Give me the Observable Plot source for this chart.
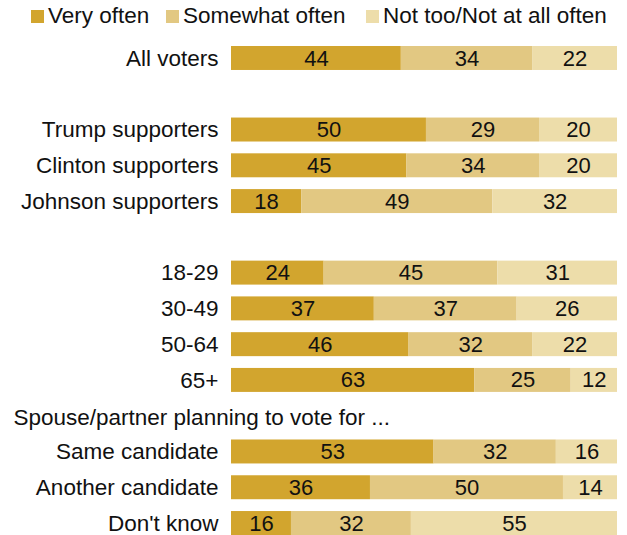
<!DOCTYPE html>
<html>
<head>
<meta charset="utf-8">
<script src="https://cdn.jsdelivr.net/npm/d3@7"></script>
<script src="https://cdn.jsdelivr.net/npm/@observablehq/plot@0.6"></script>
<style>
  html, body { margin: 0; padding: 0; overflow: hidden; background: #fff; }
  body { width: 627px; height: 535px; position: relative; font-family: "Liberation Sans", Arial, sans-serif; color: #111; }
  .legend-item { position: absolute; top: 3px; height: 26px; display: flex; align-items: center; font-size: 22.5px; white-space: nowrap; }
  .legend-item .sw { width: 13px; height: 13px; margin-right: 4px; }
  #chart { position: absolute; left: 0; top: 0; }
</style>
</head>
<body>
<div id="legend"></div>
<div id="chart"></div>
<script>
const groups = ["All voters", "Trump supporters", "Clinton supporters", "Johnson supporters",
  "18-29", "30-49", "50-64", "65+", "Same candidate", "Another candidate", "Don't know"];
const veryOften     = [44, 50, 45, 18, 24, 37, 46, 63, 53, 36, 16];
const somewhatOften = [34, 29, 34, 49, 45, 37, 32, 25, 32, 50, 32];
const notOften      = [22, 20, 20, 32, 31, 26, 22, 12, 16, 14, 55];
const responses = ["Very often", "Somewhat often", "Not too/Not at all often"];
const colors = ["#D2A52E", "#E2C882", "#EDDDAA"];
const rowOrder = ["All voters", "gap1", "Trump supporters", "Clinton supporters", "Johnson supporters",
  "gap2", "18-29", "30-49", "50-64", "65+", "gap3", "Same candidate", "Another candidate", "Don't know"];
const sectionHeaders = [{row: "gap3", label: "Spouse/partner planning to vote for ..."}];
const legendLeft = [31, 166, 366];

const series = [veryOften, somewhatOften, notOften];
const rows = groups.flatMap((g, i) => responses.map((r, j) => ({group: g, response: r, value: series[j][i]})));

// legend
const legend = document.getElementById("legend");
responses.forEach((r, j) => {
  const item = document.createElement("div");
  item.className = "legend-item";
  item.style.left = legendLeft[j] + "px";
  const sw = document.createElement("span");
  sw.className = "sw";
  sw.style.background = colors[j];
  const t = document.createElement("span");
  t.textContent = r;
  item.append(sw, t);
  legend.append(item);
});

const font = "Liberation Sans, Arial, sans-serif";
const chart = Plot.plot({
  width: 627,
  height: 535,
  marginTop: 46,
  marginBottom: 0,
  marginLeft: 231,
  marginRight: 10,
  style: {fontFamily: font, color: "#111", background: "transparent"},
  x: {domain: [0, 1], axis: null},
  y: {domain: rowOrder, paddingInner: 0.33, paddingOuter: 0, round: false, axis: null},
  color: {domain: responses, range: colors},
  marks: [
    Plot.barX(rows, Plot.stackX({offset: "normalize", x: "value", y: "group", fill: "response", inset: 0})),
    Plot.text(rows, Plot.stackX({offset: "normalize", x: "value", y: "group", z: "response",
      text: d => String(d.value), fontSize: 22, fill: "#111"})),
    Plot.axisY({tickSize: 0, tickPadding: 13, fontSize: 22.5, label: null,
      tickFormat: d => d.startsWith("gap") ? "" : d, fill: "#111"}),
    Plot.text(sectionHeaders, {y: "row", text: "label", frameAnchor: "left", textAnchor: "start",
      dx: -218, dy: 2, fontSize: 22.5, fill: "#111"})
  ]
});
document.getElementById("chart").append(chart);
</script>
</body>
</html>
